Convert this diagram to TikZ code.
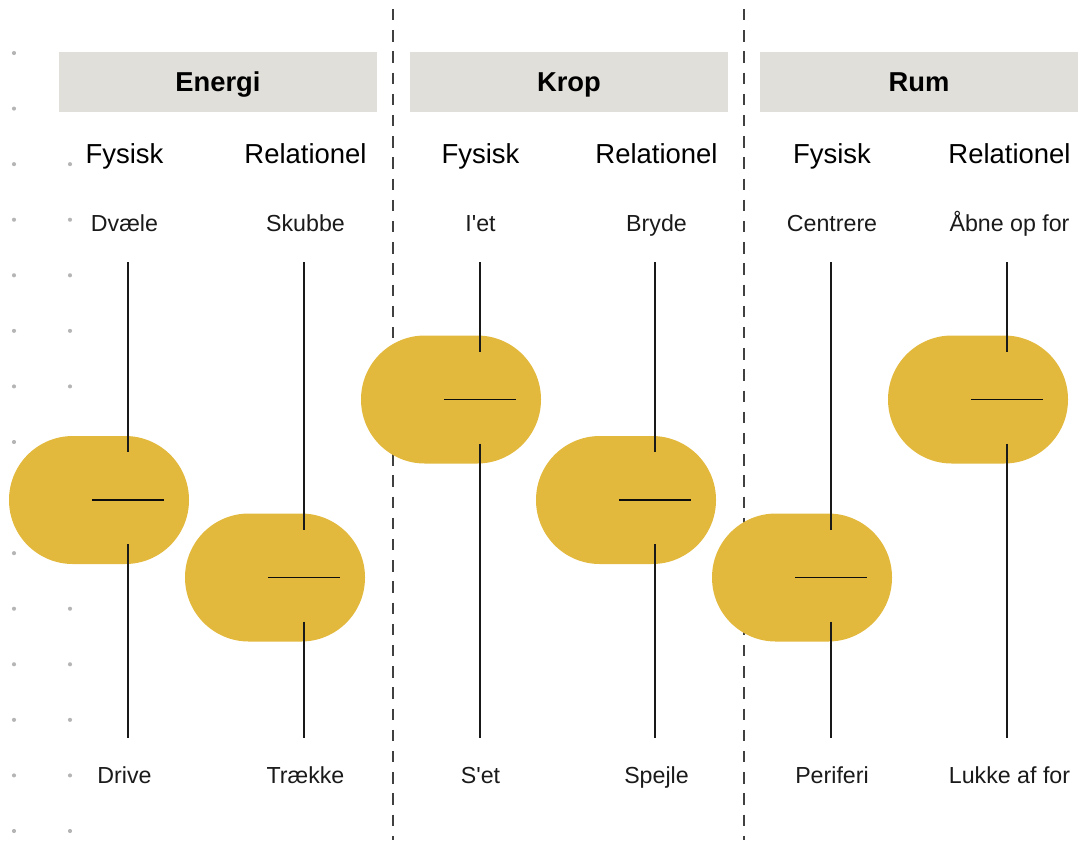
\documentclass[tikz,border=0pt]{standalone}
\usepackage{fontspec}
\setmainfont{Liberation Sans}
\definecolor{dotgray}{HTML}{B5B5B5}
\definecolor{headgray}{HTML}{E0DFDA}
\definecolor{pillyellow}{HTML}{E2B83D}
\definecolor{ink}{HTML}{1A1A1A}
\begin{document}
\begin{tikzpicture}[x=0.75pt,y=-0.75pt,
  dot/.style={circle,fill=dotgray,inner sep=0pt,minimum size=3.1pt},
  headbox/.style={rectangle,fill=headgray,inner sep=0pt,minimum width=238.5pt,minimum height=45pt},
  headtxt/.style={anchor=base,inner sep=0pt,font=\fontsize{20.5}{24}\selectfont\bfseries,text=black},
  subtxt/.style={anchor=base,inner sep=0pt,font=\fontsize{20.6}{24}\selectfont,text=black},
  itemtxt/.style={anchor=base,inner sep=0pt,font=\fontsize{17.4}{21}\selectfont,text=ink},
  pill/.style={rectangle,rounded corners=47.9pt,fill=pillyellow,inner sep=0pt,minimum width=135pt,minimum height=96pt},
  stem/.style={draw=black!90,line width=0.95pt},
  tick/.style={draw=black!95,line width=1.2pt},
  divider/.style={draw=black!75,line width=1pt,dash pattern=on 8.6pt off 7.3pt}]
\useasboundingbox (0,0) rectangle (1091,840);
% dots
\foreach \k in {0,...,14}{
  \node[dot] (dA\k) at (14,{53+55.57*\k}) {};
}
\foreach \k in {2,...,14}{
  \node[dot] (dB\k) at (70,{53+55.57*\k}) {};
}
% dividers
\coordinate (v1t) at (393,9);
\coordinate (v1b) at (393,840);
\coordinate (v2t) at (744,9);
\coordinate (v2b) at (744,840);
\draw[divider] (v1t) -- (v1b);
\draw[divider] (v2t) -- (v2b);
% headers
\node[headbox] (hE) at (218,81.5) {};
\node[headbox] (hK) at (569,81.5) {};
\node[headbox] (hR) at (919,81.5) {};
\node[headtxt] (hEt) at (218,91.5) {Energi};
\node[headtxt] (hKt) at (569,91.5) {Krop};
\node[headtxt] (hRt) at (919,91.5) {Rum};
% columns
\foreach \i/\lx/\tx/\py/\sub/\top/\bot in {
  1/128/124.5/500/Fysisk/Dvæle/Drive,
  2/304/305.5/577.5/Relationel/Skubbe/Trække,
  3/480/480.5/399.5/Fysisk/I\textquotesingle et/S\textquotesingle et,
  4/655/656.5/500/Relationel/Bryde/Spejle,
  5/831/832/577.5/Fysisk/Centrere/Periferi,
  6/1007/1009.5/399.5/Relationel/Åbne op for/Lukke af for}{
  \node[pill] (p\i) at ({\lx-29},\py) {};
  \node[subtxt] (s\i) at (\tx,163) {\sub};
  \node[itemtxt] (u\i) at (\tx,231) {\top};
  \node[itemtxt] (l\i) at (\tx,783) {\bot};
  \coordinate (st\i) at (\lx,262);
  \coordinate (sa\i) at (\lx,{\py-48});
  \coordinate (sc\i) at (\lx,{\py+44});
  \coordinate (sb\i) at (\lx,738);
  \coordinate (ml\i) at ({\lx-36},\py);
  \coordinate (mr\i) at ({\lx+36},\py);
  \draw[stem] (st\i) -- (sa\i);
  \draw[stem] (sc\i) -- (sb\i);
  \draw[tick] (ml\i) -- (mr\i);
}
\end{tikzpicture}
\end{document}
